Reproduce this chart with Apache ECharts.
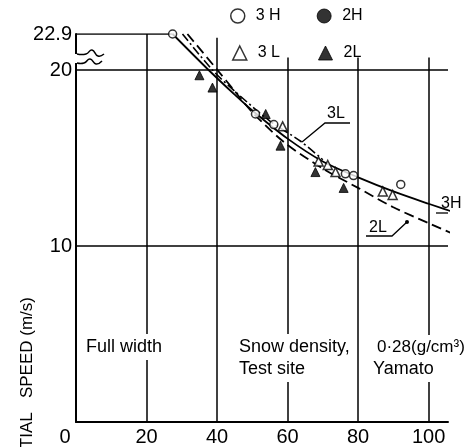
<!DOCTYPE html>
<html>
<head>
<meta charset="utf-8">
<script src="https://cdn.jsdelivr.net/npm/echarts@6/dist/echarts.min.js"></script>
<style>
html, body { margin: 0; padding: 0; background: #fff; }
#chart { width: 468px; height: 447px; }
</style>
</head>
<body>
<div id="chart"></div>
<script>
// measured points (x, speed m/s)
const h3X = [27.4, 50.9, 56.1, 76.4, 78.7, 92.1];
const h3Y = [22.9, 17.5, 16.9, 14.1, 14.0, 13.5];
const h2X = [];
const h2Y = [];
const l3X = [58.6, 68.8, 71.4, 73.6, 87.0, 89.8];
const l3Y = [16.8, 14.8, 14.6, 14.2, 13.1, 12.9];
const l2X = [35.0, 38.7, 53.8, 58.0, 67.9, 75.9];
const l2Y = [19.7, 19.0, 17.5, 15.7, 14.2, 13.3];

// fitted curves
const curve3hX = [27.4, 37.6, 45, 50, 60, 70, 80, 90, 100, 110.5];
const curve3hY = [22.9, 20.0, 18.6, 17.7, 16.1, 14.8, 13.9, 13.1, 12.4, 11.7];
const curve3lX = [30.2, 38.7, 45, 55, 63.7, 70];
const curve3lY = [22.9, 20.0, 18.8, 17.1, 15.95, 14.9];
const curve2lX = [31.6, 40.1, 45, 50, 59, 70, 80, 90, 100, 109.6];
const curve2lY = [22.9, 20.0, 18.8, 17.6, 15.9, 14.4, 13.3, 12.2, 11.3, 10.45];

// max speed line
const capX = [0, 27.4];
const capY = [22.9, 22.9];

// vertical grid lines and how high they reach
const gridX = [20, 40, 60, 80, 100];
const gridTop = [22.9, 22.6, 21.0, 21.0, 21.0];

const legendText = { '3H': '3 H', '2H': '2H', '3L': '3 L', '2L': '2L' };

const FONT = 'Liberation Sans';
// broken y axis: everything above 20 is squeezed
const BREAK = 20, SQUEEZE = 0.705;
function disp(v) { return v <= BREAK ? v : BREAK + (v - BREAK) * SQUEEZE; }
function pts(xs, ys) { return xs.map((x, i) => [x, disp(ys[i])]); }
const yTop = disp(22.9);

const myChart = echarts.init(document.getElementById('chart'));

const openStyle = { color: '#fff', borderColor: '#000', borderWidth: 1.5 };
const fillStyle = { color: '#000', borderColor: '#000', borderWidth: 1 };
const legendFont = { fontFamily: FONT, fontSize: 16, color: '#000', padding: [0, 0, 0, 6] };

let option = {
  animation: false,
  backgroundColor: '#fff',
  grid: { left: 76, right: 20, top: 34, bottom: 25 },
  legend: [
    {
      left: 230, top: 8, padding: 0, itemWidth: 14, itemHeight: 14, itemGap: 36,
      selectedMode: false, symbolKeepAspect: true,
      formatter: function (n) { return legendText[n]; },
      textStyle: legendFont,
      data: [
        { name: '3H', icon: 'circle', itemStyle: openStyle },
        { name: '2H', icon: 'circle', itemStyle: fillStyle }
      ]
    },
    {
      left: 232, top: 45, padding: 0, itemWidth: 14, itemHeight: 14, itemGap: 38,
      selectedMode: false, symbolKeepAspect: true,
      formatter: function (n) { return legendText[n]; },
      textStyle: legendFont,
      data: [
        { name: '3L', icon: 'triangle', itemStyle: openStyle },
        { name: '2L', icon: 'triangle', itemStyle: fillStyle }
      ]
    }
  ],
  xAxis: {
    type: 'value', min: 0, max: 105.5, interval: 20,
    axisLine: { lineStyle: { color: '#000', width: 2 } },
    axisTick: { show: false },
    axisLabel: {
      fontFamily: FONT, fontSize: 20, color: '#000', margin: 5, showMaxLabel: false,
      formatter: function (v) { return v === 0 ? '{z|0}' : String(v); },
      rich: { z: { fontFamily: FONT, fontSize: 20, color: '#000', padding: [0, 22, 0, 0] } }
    },
    splitLine: { show: false }
  },
  yAxis: {
    type: 'value', min: 0, max: yTop, interval: 10,
    axisLine: { show: true, lineStyle: { color: '#000', width: 2 } },
    axisTick: { show: false },
    axisLabel: {
      fontFamily: FONT, fontSize: 20, color: '#000', margin: 4,
      showMinLabel: false, showMaxLabel: true,
      formatter: function (v) { return v > BREAK + 0.5 ? '22.9' : String(v); }
    },
    splitLine: {
      show: true, showMinLine: false, showMaxLine: false,
      lineStyle: { color: '#000', width: 1.5 }
    }
  },
  series: [
    {
      name: 'cap', type: 'line', data: pts(capX, capY), symbol: 'none',
      lineStyle: { color: '#000', width: 1.5 },
      markLine: {
        silent: true, symbol: ['none', 'none'], label: { show: false },
        lineStyle: { color: '#000', width: 1.5, type: 'solid' },
        data: gridX.map((x, i) => [{ coord: [x, disp(gridTop[i])] }, { coord: [x, 0] }])
      }
    },
    {
      name: '3H curve', type: 'line', data: pts(curve3hX, curve3hY), symbol: 'none',
      smooth: 0.3, clip: false, lineStyle: { color: '#000', width: 1.8 }
    },
    {
      name: '3L curve', type: 'line', data: pts(curve3lX, curve3lY), symbol: 'none',
      smooth: 0.3, clip: false, lineStyle: { color: '#000', width: 1.6, type: [9, 3, 2, 3] }
    },
    {
      name: '2L curve', type: 'line', data: pts(curve2lX, curve2lY), symbol: 'none',
      smooth: 0.3, clip: false, lineStyle: { color: '#000', width: 1.8, type: [10, 5] }
    },
    { name: '3H', type: 'scatter', symbol: 'circle', symbolSize: 8, data: pts(h3X, h3Y), itemStyle: openStyle, z: 5 },
    { name: '2H', type: 'scatter', symbol: 'circle', symbolSize: 8, data: pts(h2X, h2Y), itemStyle: fillStyle, z: 5 },
    { name: '3L', type: 'scatter', symbol: 'triangle', symbolSize: 9, data: pts(l3X, l3Y), itemStyle: openStyle, z: 5 },
    { name: '2L', type: 'scatter', symbol: 'triangle', symbolSize: 9, data: pts(l2X, l2Y), itemStyle: fillStyle, z: 5 }
  ],
  graphic: [
    // axis break marks
    { type: 'rect', z: 100, shape: { x: 73, y: 54, width: 7, height: 9 }, style: { fill: '#fff' } },
    { type: 'polyline', z: 101, shape: { points: [[77, 54], [86, 54], [92, 50], [98, 56], [104, 54]], smooth: 0.5 }, style: { stroke: '#000', lineWidth: 1.5, fill: null } },
    { type: 'polyline', z: 101, shape: { points: [[77, 63], [84, 63], [90, 59], [96, 64], [102, 61]], smooth: 0.5 }, style: { stroke: '#000', lineWidth: 1.5, fill: null } },
    // curve labels
    { type: 'text', z: 100, left: 327, top: 106, style: { text: '3L', font: '16px ' + FONT, fill: '#000' } },
    { type: 'polyline', z: 100, shape: { points: [[350, 123], [325, 123], [302, 142]] }, style: { stroke: '#000', lineWidth: 1.3, fill: null } },
    { type: 'text', z: 100, left: 369, top: 220, style: { text: '2L', font: '16px ' + FONT, fill: '#000' } },
    { type: 'polyline', z: 100, shape: { points: [[366, 236], [392, 236], [407, 222]] }, style: { stroke: '#000', lineWidth: 1.3, fill: null } },
    { type: 'circle', z: 100, shape: { cx: 407, cy: 222, r: 2 }, style: { fill: '#000' } },
    { type: 'text', z: 100, left: 441, top: 196, style: { text: '3H', font: '16px ' + FONT, fill: '#000' } },
    { type: 'line', z: 100, shape: { x1: 436, y1: 213, x2: 448, y2: 213 }, style: { stroke: '#000', lineWidth: 1.3 } },
    // notes
    { type: 'text', z: 100, left: 84, top: 334, style: { text: 'Full width', font: '18px ' + FONT, fill: '#000', backgroundColor: '#fff', padding: [4, 2] } },
    { type: 'text', z: 100, left: 237, top: 334, style: { text: 'Snow density,', font: '18px ' + FONT, fill: '#000', backgroundColor: '#fff', padding: [4, 2] } },
    { type: 'text', z: 100, left: 237, top: 356, style: { text: 'Test site', font: '18px ' + FONT, fill: '#000', backgroundColor: '#fff', padding: [4, 2] } },
    { type: 'text', z: 100, left: 376, top: 335, style: { text: '0·28(g/cm³)', font: '17px ' + FONT, fill: '#000', backgroundColor: '#fff', padding: [4, 1] } },
    { type: 'text', z: 100, left: 371, top: 356, style: { text: 'Yamato', font: '18px ' + FONT, fill: '#000', backgroundColor: '#fff', padding: [4, 2] } },
    // axis title, cut by the page edge as in the scan
    {
      type: 'text', z: 100, x: 27, y: 297, rotation: Math.PI / 2,
      style: { text: 'INITIAL   SPEED (m/s)', font: '17px ' + FONT, fill: '#000', align: 'right', verticalAlign: 'middle' }
    }
  ]
};

myChart.setOption(option);
</script>
</body>
</html>
